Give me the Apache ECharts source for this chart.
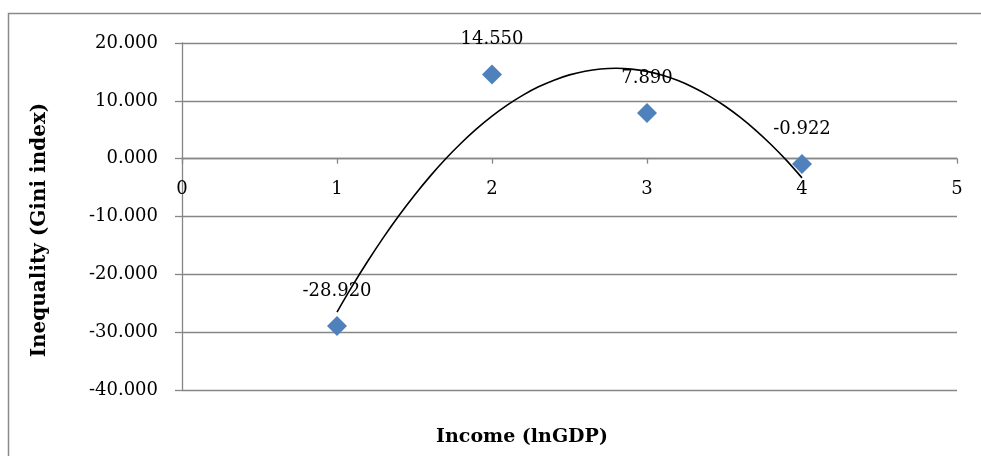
<!DOCTYPE html>
<html>
<head>
<meta charset="utf-8">
<script src="https://cdn.jsdelivr.net/npm/echarts@6/dist/echarts.min.js"></script>
<style>
html,body{margin:0;padding:0;background:#fff;}
#chart{width:981px;height:456px;}
</style>
</head>
<body>
<div id="chart"></div>
<script>
// Observed points
var incomeX = [1, 2, 3, 4];
var giniY = [-28.92, 14.55, 7.89, -0.922];
var trendX = [1.0, 1.1, 1.2, 1.3, 1.4, 1.5, 1.6, 1.7, 1.8, 1.9, 2.0, 2.1, 2.2, 2.3, 2.4, 2.5,
              2.6, 2.7, 2.8, 2.9, 3.0, 3.1, 3.2, 3.3, 3.4, 3.5, 3.6, 3.7, 3.8, 3.9, 4.0];
var trendY = [-26.52, -21.96, -17.66, -13.61, -9.83, -6.32, -3.06, -0.06, 2.67, 5.14, 7.35,
              9.30, 10.99, 12.42, 13.58, 14.49, 15.13, 15.51, 15.63, 15.49, 15.09, 14.42,
              13.50, 12.31, 10.86, 9.15, 7.18, 4.95, 2.45, -0.30, -3.32];
var xTitle = 'Income (lnGDP)';
var yTitle = 'Inequality (Gini index)';

var serif = 'DejaVu Serif';
var chart = echarts.init(document.getElementById('chart'), null, {renderer: 'canvas'});
var gridTop = 43, gridBottom = 66, chartH = 456;
var yMin = -40, yMax = 20;
var plotH = chartH - gridTop - gridBottom;
var zeroOffset = -plotH * (0 - yMin) / (yMax - yMin);
var option = {
  backgroundColor: '#fff',
  animation: false,
  grid: {left: 182, right: 24, top: gridTop, bottom: gridBottom},
  graphic: [
    {type: 'rect', shape: {x: 8.5, y: 13.5, width: 1000, height: 500}, style: {fill: 'none', stroke: '#8a8a8a', lineWidth: 1.5}, z: 0},
    {type: 'text', x: 40, y: 230, rotation: Math.PI / 2, style: {text: yTitle, font: 'bold 20px "' + serif + '"', fill: '#000', align: 'center', verticalAlign: 'middle'}},
    {type: 'text', x: 522, y: 437, style: {text: xTitle, font: 'bold 19px "' + serif + '"', fill: '#000', align: 'center', verticalAlign: 'middle'}}
  ],
  xAxis: {
    type: 'value', min: 0, max: 5, interval: 1,
    offset: zeroOffset,
    axisLine: {onZero: false, lineStyle: {color: '#868686', width: 1.3}},
    axisTick: {show: true, inside: false, length: 5, lineStyle: {color: '#868686', width: 1.3}},
    axisLabel: {margin: 22, color: '#000', fontFamily: serif, fontSize: 18},
    splitLine: {show: false}
  },
  yAxis: {
    type: 'value', min: yMin, max: yMax, interval: 10,
    axisLine: {show: true, onZero: false, lineStyle: {color: '#868686', width: 1.3}},
    axisTick: {show: true, length: 7, lineStyle: {color: '#868686', width: 1.3}},
    axisLabel: {margin: 24, color: '#000', fontFamily: serif, fontSize: 18,
      formatter: function (v) { return v.toFixed(3); }},
    splitLine: {show: true, lineStyle: {color: '#868686', width: 1.3}}
  },
  series: [
    {
      type: 'scatter', z: 2,
      symbol: 'diamond', symbolSize: 20,
      itemStyle: {color: '#4F81BD', opacity: 1},
      label: {show: true, position: 'top', distance: 16, color: '#000', fontFamily: serif, fontSize: 18,
        formatter: function (p) { return p.value[1].toFixed(3); }},
      data: incomeX.map(function (x, i) { return [x, giniY[i]]; })
    },
    {
      type: 'line', z: 3, smooth: 0.3, showSymbol: false, symbol: 'none',
      lineStyle: {color: '#000', width: 1.6},
      data: trendX.map(function (x, i) { return [x, trendY[i]]; })
    }
  ]
};
chart.setOption(option);
</script>
</body>
</html>
